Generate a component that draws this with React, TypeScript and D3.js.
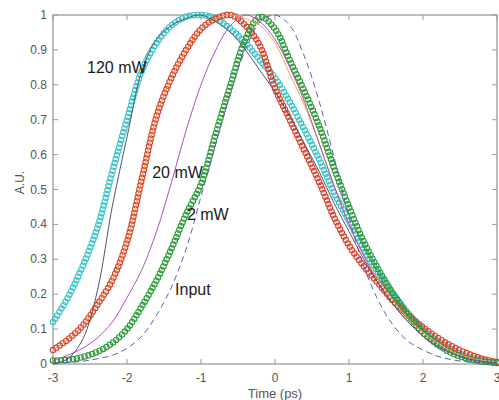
import React, { useEffect, useRef } from 'react'
import * as d3 from 'd3'

// time axis (ps)
const times = [-3, -2.8, -2.6, -2.4, -2.2, -2, -1.8, -1.6, -1.4, -1.2, -1, -0.8, -0.6, -0.4, -0.2, 0,
  0.2, 0.4, 0.6, 0.8, 1, 1.2, 1.4, 1.6, 1.8, 2, 2.2, 2.4, 2.6, 2.8, 3]

// measured traces (circles)
const meas120 = [0.12, 0.19, 0.28, 0.39, 0.55, 0.70, 0.84, 0.92, 0.97, 0.995, 1.0, 0.99, 0.96, 0.92, 0.87, 0.82,
  0.75, 0.67, 0.585, 0.49, 0.41, 0.33, 0.26, 0.20, 0.145, 0.10, 0.065, 0.04, 0.02, 0.01, 0.003]
const meas20 = [0.04, 0.07, 0.11, 0.17, 0.24, 0.35, 0.53, 0.71, 0.82, 0.90, 0.96, 0.99, 1.0, 0.97, 0.91, 0.79,
  0.70, 0.61, 0.52, 0.42, 0.34, 0.28, 0.23, 0.18, 0.14, 0.105, 0.075, 0.05, 0.03, 0.015, 0.006]
const meas2 = [0.01, 0.012, 0.02, 0.035, 0.06, 0.10, 0.165, 0.24, 0.33, 0.43, 0.515, 0.66, 0.80, 0.93, 0.995, 0.96,
  0.87, 0.78, 0.68, 0.56, 0.45, 0.35, 0.27, 0.20, 0.14, 0.09, 0.055, 0.03, 0.015, 0.007, 0.003]

// simulated / input traces (lines)
const inputPulse = [0.002, 0.004, 0.008, 0.015, 0.025, 0.045, 0.08, 0.14, 0.22, 0.33, 0.48, 0.63, 0.78, 0.90, 0.98, 1.0,
  0.97, 0.88, 0.75, 0.59, 0.42, 0.28, 0.18, 0.11, 0.065, 0.04, 0.022, 0.012, 0.006, 0.003, 0.001]
const sim10 = [0.01, 0.025, 0.045, 0.075, 0.12, 0.19, 0.27, 0.38, 0.52, 0.67, 0.80, 0.90, 0.97, 1.0, 0.98, 0.93,
  0.85, 0.75, 0.63, 0.51, 0.40, 0.31, 0.23, 0.17, 0.12, 0.08, 0.05, 0.03, 0.016, 0.008, 0.004]
const sim20 = [0.04, 0.07, 0.11, 0.17, 0.24, 0.35, 0.53, 0.71, 0.82, 0.90, 0.96, 0.99, 1.0, 0.99, 0.97, 0.92,
  0.83, 0.74, 0.63, 0.51, 0.40, 0.31, 0.24, 0.18, 0.13, 0.09, 0.06, 0.035, 0.02, 0.01, 0.004]
const sim120 = [0.0, 0.015, 0.07, 0.21, 0.45, 0.65, 0.84, 0.93, 0.97, 0.99, 1.0, 0.98, 0.95, 0.90, 0.84, 0.78,
  0.71, 0.63, 0.55, 0.46, 0.38, 0.30, 0.23, 0.17, 0.12, 0.08, 0.05, 0.03, 0.015, 0.007, 0.003]

const xTicks = [-3, -2, -1, 0, 1, 2, 3]
const yTicks = [0, 0.1, 0.2, 0.3, 0.4, 0.5, 0.6, 0.7, 0.8, 0.9, 1]

const labels = [
  { text: '120 mW', t: -2.54, v: 0.834 },
  { text: '20 mW', t: -1.66, v: 0.533 },
  { text: '2 mW', t: -1.19, v: 0.413 },
  { text: 'Input', t: -1.35, v: 0.198 },
]

export default function App() {
  const svgRef = useRef<SVGSVGElement>(null)

  useEffect(() => {
    const width = 499
    const height = 400
    const margin = { top: 15, right: 2, bottom: 36, left: 53 }

    const svg = d3.select(svgRef.current)
    svg.selectAll('*').remove()

    const x = d3.scaleLinear().domain([-3, 3]).range([margin.left, width - margin.right])
    const y = d3.scaleLinear().domain([0, 1]).range([height - margin.bottom, margin.top])

    const axisColor = '#9a9a9a'
    const textColor = '#555'
    const font = '"Liberation Sans", Arial, sans-serif'

    // frame
    svg.append('rect')
      .attr('x', x(-3)).attr('y', y(1))
      .attr('width', x(3) - x(-3)).attr('height', y(0) - y(1))
      .attr('fill', 'none').attr('stroke', axisColor).attr('stroke-width', 1.3)

    // ticks
    const tl = 5
    xTicks.forEach(t => {
      svg.append('line').attr('x1', x(t)).attr('x2', x(t)).attr('y1', y(0)).attr('y2', y(0) - tl)
        .attr('stroke', axisColor)
      svg.append('line').attr('x1', x(t)).attr('x2', x(t)).attr('y1', y(1)).attr('y2', y(1) + tl)
        .attr('stroke', axisColor)
      svg.append('text').attr('x', x(t)).attr('y', y(0) + 18)
        .attr('text-anchor', 'middle').attr('fill', textColor)
        .style('font', `12px ${font}`)
        .text(t)
    })
    yTicks.forEach(v => {
      svg.append('line').attr('x1', x(-3)).attr('x2', x(-3) + tl).attr('y1', y(v)).attr('y2', y(v))
        .attr('stroke', axisColor)
      svg.append('line').attr('x1', x(3)).attr('x2', x(3) - tl).attr('y1', y(v)).attr('y2', y(v))
        .attr('stroke', axisColor)
      svg.append('text').attr('x', x(-3) - 6).attr('y', y(v) + 4)
        .attr('text-anchor', 'end').attr('fill', textColor)
        .style('font', `12px ${font}`)
        .text(v)
    })

    svg.append('text')
      .attr('x', x(0)).attr('y', 398)
      .attr('text-anchor', 'middle').attr('fill', textColor)
      .style('font', `13px ${font}`)
      .text('Time (ps)')
    svg.append('text')
      .attr('transform', `translate(24,${y(0.52)}) rotate(-90)`)
      .attr('text-anchor', 'middle').attr('fill', textColor)
      .style('font', `12px ${font}`)
      .text('A.U.')

    const line = d3.line<number>()
      .x((_, i) => x(times[i]))
      .y(d => y(d))
      .curve(d3.curveCatmullRom.alpha(0.5))

    const plot = svg.append('g')

    // measured traces drawn as dense open circles along the trace
    const marked = [
      { values: meas120, color: '#3cc3c8' },
      { values: meas20, color: '#d8432e' },
      { values: meas2, color: '#2f9a3a' },
    ]
    marked.forEach(s => {
      const path = plot.append('path')
        .attr('d', line(s.values))
        .attr('fill', 'none').attr('stroke', 'none')
      const node = path.node() as SVGPathElement
      const len = node.getTotalLength()
      const n = Math.round(len / 4)
      for (let i = 0; i <= n; i++) {
        const p = node.getPointAtLength((i / n) * len)
        plot.append('circle')
          .attr('cx', p.x).attr('cy', p.y).attr('r', 2.7)
          .attr('fill', 'none').attr('stroke', s.color).attr('stroke-width', 1.1)
      }
    })

    const lines = [
      { values: sim20, color: '#f0a850', dash: null },
      { values: sim10, color: '#b44cc4', dash: null },
      { values: sim120, color: '#50566e', dash: null },
      { values: inputPulse, color: '#5b5bbf', dash: '6,4' },
    ]
    lines.forEach(s => {
      plot.append('path')
        .attr('d', line(s.values))
        .attr('fill', 'none').attr('stroke', s.color).attr('stroke-width', 1)
        .attr('stroke-dasharray', s.dash)
    })

    labels.forEach(l => {
      svg.append('text')
        .attr('x', x(l.t)).attr('y', y(l.v))
        .attr('fill', '#1a1a1a')
        .style('font', `16px ${font}`)
        .text(l.text)
    })
  }, [])

  return (
    <svg ref={svgRef} width={499} height={400}
      style={{ position: 'absolute', left: 0, top: 0, background: '#fff' }} />
  )
}
